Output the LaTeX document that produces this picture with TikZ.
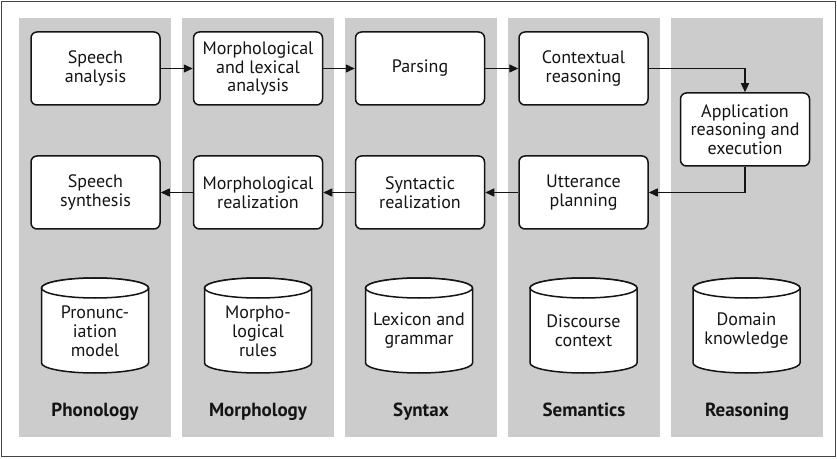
\documentclass[tikz,border=0pt]{standalone}
\usepackage{fontspec}
\setmainfont{PT Sans}
\usetikzlibrary{arrows.meta}
\definecolor{band}{RGB}{204,204,204}
\definecolor{ink}{RGB}{20,20,20}
\tikzset{
  stepbox/.style={draw=ink, line width=1.5pt, fill=white, rounded corners=6pt,
    minimum width=129pt, minimum height=73pt, align=center, inner sep=1pt,
    font=\fontsize{18}{18.5}\selectfont, text=ink},
  flow/.style={draw=ink, line width=1.4pt, -{Triangle[length=9pt,width=8pt]}},
  cyltext/.style={align=center, font=\fontsize{18}{19}\selectfont, text=ink, inner sep=0pt},
  cyl/.style={draw=ink, line width=1.5pt, fill=white},
  layer/.style={font=\bfseries\fontsize{19}{20}\selectfont, text=ink, anchor=base, inner sep=0pt},
}
\begin{document}
\begin{tikzpicture}[x=1pt,y=1pt]
\useasboundingbox (0,0) rectangle (837,458);
\draw[line width=1.3pt, draw=ink!80] (1.5,1.5) rectangle (835.5,456.5);
% bands
\foreach \i in {0,...,4} {
  \fill[band] ({19+163*\i},21) rectangle ({171+163*\i},440);
}
% top row
\node[stepbox] (sa) at (95.5,389.5) {Speech\\analysis};
\node[stepbox] (mla) at (258,389.5) {Morphological\\and lexical\\analysis};
\node[stepbox] (pa) at (420,389.5) {Parsing};
\node[stepbox] (cr) at (583.5,389.5) {Contextual\\reasoning};
\node[stepbox] (ar) at (745,328.5) {Application\\reasoning and\\execution};
% bottom row
\node[stepbox] (ss) at (95.5,265.5) {Speech\\synthesis};
\node[stepbox] (mr) at (258,265.5) {Morphological\\realization};
\node[stepbox] (sr) at (420,265.5) {Syntactic\\realization};
\node[stepbox] (up) at (583.5,265.5) {Utterance\\planning};
% arrows
\draw[flow] (sa) -- (mla);
\draw[flow] (mla) -- (pa);
\draw[flow] (pa) -- (cr);
\draw[flow] (cr.east) -| (ar.north);
\draw[flow] (ar.south) |- (up.east);
\draw[flow] (up) -- (sr);
\draw[flow] (sr) -- (mr);
\draw[flow] (mr) -- (ss);
% cylinders
\foreach \cx/\nm/\txt in {95/c1/{Pronunc-\\iation\\model}, 258/c2/{Morpho-\\logical\\rules}, 419/c3/{Lexicon and\\grammar}, 583.5/c4/{Discourse\\context}, 746.5/c5/{Domain\\knowledge}} {
  \path[cyl] (\cx-53.5,170) -- (\cx-53.5,95) arc[start angle=180,end angle=360,x radius=53.5pt,y radius=10pt] -- (\cx+53.5,170) arc[start angle=0,end angle=180,x radius=53.5pt,y radius=10pt] -- cycle;
  \draw[cyl] (\cx,170) ellipse[x radius=53.5pt,y radius=10pt];
  \node[cyltext] (\nm) at (\cx,127) {\txt};
}
% layer labels
\node[layer] (l1) at (95,42) {Phonology};
\node[layer] (l2) at (258,42) {Morphology};
\node[layer] (l3) at (421,42) {Syntax};
\node[layer] (l4) at (584,42) {Semantics};
\node[layer] (l5) at (747,42) {Reasoning};
\end{tikzpicture}
\end{document}
